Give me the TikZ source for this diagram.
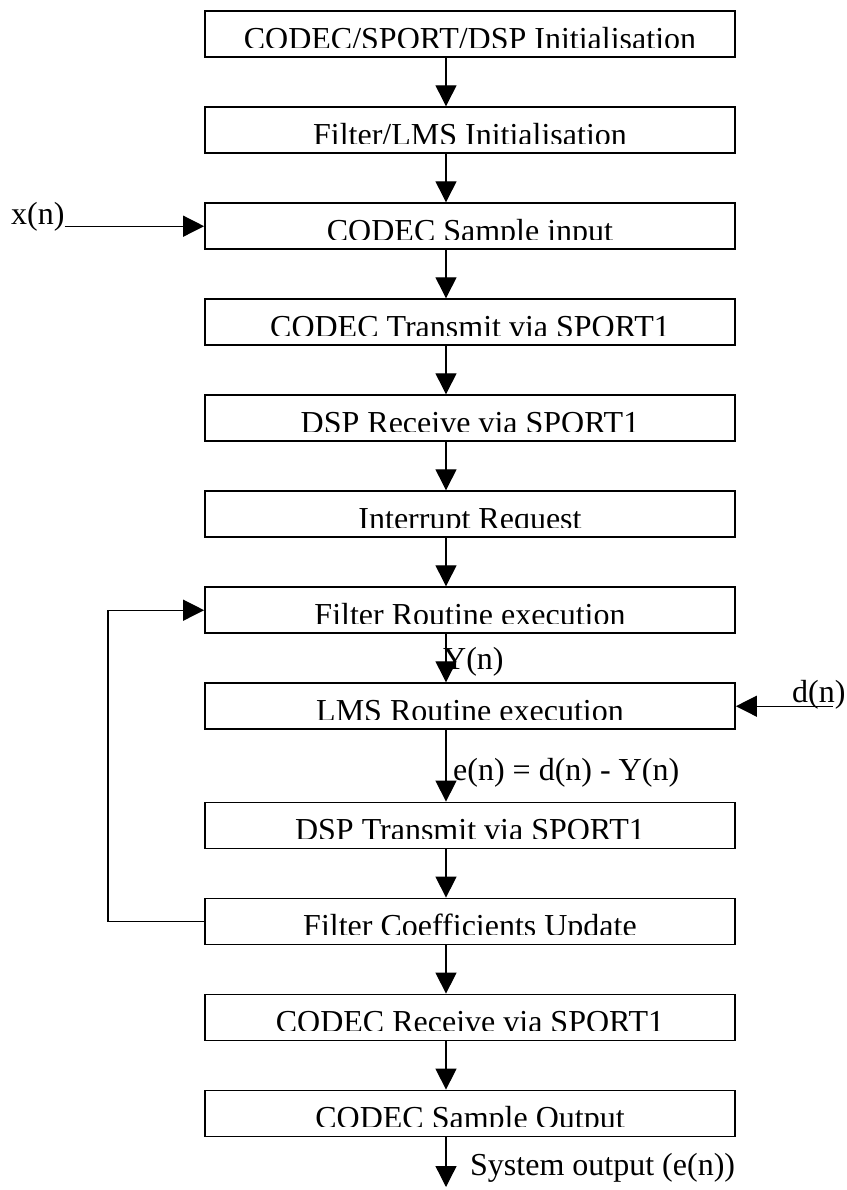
\documentclass[tikz,border=0pt]{standalone}
\usepackage{fontspec}
\setmainfont{Liberation Serif}
\usetikzlibrary{arrows.meta}

\tikzset{
  flowbox/.style={draw, line width=1.8pt, minimum width=530pt, minimum height=46pt, inner sep=0pt},
  flowarrow/.style={line width=1.3pt, -{Triangle[width=21pt,length=21pt]}},
  sigtext/.style={inner sep=0pt, anchor=base west},
  boxtext/.style={inner sep=0pt, anchor=base},
}

% One process step: a framed box whose text is cut just above its baseline
\newcommand{\flowstep}[3]{%
  \node[flowbox] (#1) at (470,#2) {};
  \begin{scope}
    \clip ([xshift=1pt,yshift=-1pt]#1.north west) rectangle ([xshift=-1pt,yshift=-37pt]#1.north east);
    \node[boxtext] at ([yshift=-39pt]#1.north) {#3};
  \end{scope}}

\begin{document}
\begin{tikzpicture}[x=1pt, y=-1pt, font=\fontsize{32}{38}\selectfont]
  \useasboundingbox[fill=white] (0,0) rectangle (846,1190);

  \coordinate (xa) at (446,0);
  \coordinate (loopx) at (108,0);

  \flowstep{b1}{34.2}{CODEC/SPORT/DSP Initialisation}
  \flowstep{b2}{130.2}{Filter/LMS Initialisation}
  \flowstep{b3}{226.2}{CODEC Sample input}
  \flowstep{b4}{322.2}{CODEC Transmit via SPORT1}
  \flowstep{b5}{418.2}{DSP Receive via SPORT1}
  \flowstep{b6}{514.2}{Interrupt Request}
  \flowstep{b7}{610.2}{Filter Routine execution}
  \flowstep{b8}{706.2}{LMS Routine execution}
  \flowstep{b9}{825.5}{DSP Transmit via SPORT1}
  \flowstep{b10}{921.5}{Filter Coefficients Update}
  \flowstep{b11}{1017.5}{CODEC Receive via SPORT1}
  \flowstep{b12}{1113.5}{CODEC Sample Output}

  % main chain
  \foreach \a/\b in {b1/b2, b2/b3, b3/b4, b4/b5, b5/b6, b6/b7, b7/b8, b8/b9, b9/b10, b10/b11, b11/b12}
    \draw[flowarrow] (\a.south -| xa) -- (\b.north -| xa);

  % external signals
  \node[sigtext] (xin) at (11,225) {x(n)};
  \draw[flowarrow] (xin.base east |- b3.west) -- (b3.west);

  \node[sigtext] (din) at (792,702) {d(n)};
  \draw[flowarrow] ([xshift=-13pt]din.base east |- b8.east) -- (b8.east);

  \node[sigtext] (yn) at (443,669) {Y(n)};
  \node[sigtext] (en) at (453,780) {e(n) = d(n) - Y(n)};

  % system output
  \coordinate (sysout) at (446,1187);
  \draw[flowarrow] (b12.south -| xa) -- (sysout);
  \node[sigtext] (outtext) at (470,1175) {System output (e(n))};

  % coefficient update loop back to the filter
  \draw[flowarrow] (b10.west) -- (b10.west -| loopx) |- (b7.west);
\end{tikzpicture}
\end{document}
